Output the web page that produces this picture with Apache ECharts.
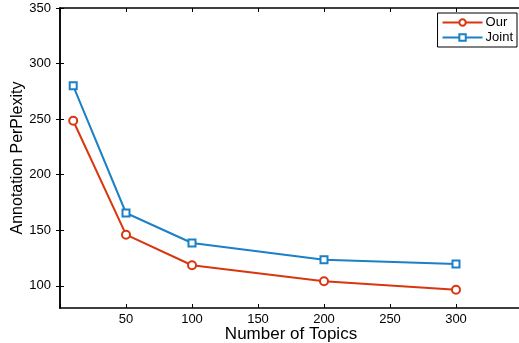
<!DOCTYPE html>
<html><head><meta charset="utf-8">
<script src="https://cdn.jsdelivr.net/npm/echarts@6/dist/echarts.min.js"></script>
<style>html,body{margin:0;padding:0;background:#fff}#c{width:519px;height:343px}</style>
</head><body><div id="c"></div>
<script>
const topics = [10, 50, 100, 200, 300];
const ourValues = [248.5, 146, 118.5, 104, 96.5];
const jointValues = [280, 165.5, 138.5, 123.5, 119.5];
const xTicks = [50, 100, 150, 200, 250, 300];
const yTicks = [100, 150, 200, 250, 300, 350];

const font = 'Liberation Sans, Arial, sans-serif';
const red = '#D9360F';
const blue = '#1B80C6';
const chart = echarts.init(document.getElementById('c'));
const axisCommon = {
  axisLine: {show: true, lineStyle: {color: '#000', width: 1.5}},
  axisTick: {show: true, inside: true, length: 4, lineStyle: {color: '#000', width: 1}},
  splitLine: {show: false}
};
chart.setOption({
  animation: false,
  backgroundColor: '#fff',
  grid: {left: 60, right: -3, top: 8, bottom: 35, containLabel: false, outerBoundsMode: 'none'},
  legend: {
    right: 2, top: 13, orient: 'vertical',
    backgroundColor: '#fff', borderColor: '#000', borderWidth: 1,
    padding: [3, 4, 3, 4], itemGap: 2, itemWidth: 40, itemHeight: 8,
    textStyle: {fontFamily: font, fontSize: 13, color: '#000', padding: [0, 0, 0, -2]},
    data: ['Our', 'Joint']
  },
  xAxis: [{
    type: 'value', min: 0, max: 350, interval: 50, position: 'bottom',
    name: 'Number of Topics', nameLocation: 'middle', nameGap: 18, nameMoveOverlap: false,
    nameTextStyle: {fontFamily: font, fontSize: 17, color: '#000'},
    ...axisCommon,
    axisLabel: {fontFamily: font, fontSize: 13, color: '#000', margin: 5,
      formatter: v => xTicks.includes(v) ? String(v) : ''}
  }, {
    type: 'value', min: 0, max: 350, interval: 50, position: 'top',
    ...axisCommon, axisLabel: {show: false}
  }],
  yAxis: [{
    type: 'value', min: 80, max: 350, position: 'left',
    name: 'Annotation PerPlexity', nameLocation: 'middle', nameGap: 34, nameMoveOverlap: false,
    nameTextStyle: {fontFamily: font, fontSize: 16, color: '#000'},
    ...axisCommon,
    axisTick: {show: true, inside: true, length: 4, customValues: yTicks, lineStyle: {color: '#000'}},
    axisLabel: {fontFamily: font, fontSize: 13, color: '#000', margin: 9, customValues: yTicks}
  }, {
    type: 'value', min: 80, max: 350, position: 'right',
    ...axisCommon,
    axisTick: {show: true, inside: true, length: 4, customValues: yTicks, lineStyle: {color: '#000'}},
    axisLabel: {show: false}
  }],
  series: [{
    name: 'Our', type: 'line', xAxisIndex: 0, yAxisIndex: 0,
    data: topics.map((t, i) => [t, ourValues[i]]),
    symbol: 'emptyCircle', symbolSize: 8,
    lineStyle: {color: red, width: 2},
    itemStyle: {color: red, borderWidth: 2}
  }, {
    name: 'Joint', type: 'line', xAxisIndex: 0, yAxisIndex: 0,
    data: topics.map((t, i) => [t, jointValues[i]]),
    symbol: 'emptyRect', symbolSize: 7,
    lineStyle: {color: blue, width: 2},
    itemStyle: {color: blue, borderWidth: 2}
  }]
});
</script></body></html>
